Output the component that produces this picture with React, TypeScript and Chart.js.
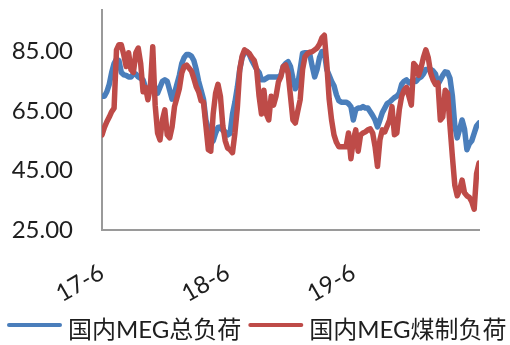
import React, { useEffect, useRef } from 'react';
import { Chart, registerables } from 'chart.js';

Chart.register(...registerables);

// Series names and colours
const seriesNames = ['国内MEG总负荷', '国内MEG煤制负荷'];
const seriesColors = ['#4a7ebb', '#be4b48'];

// X axis: weeks counted from June 2017, labelled once a year
const tickWeeks = [0, 52, 104];
const tickLabels = ['17-6', '18-6', '19-6'];

// Y axis ticks
const yTicks = [25, 45, 65, 85];

// Weekly operating rate (%) — total MEG capacity
const totalLoad = [
  70, 70, 71.5, 74, 78, 81, 82.5, 82, 78, 77.2,
  77, 76.5, 76.5, 77.5, 77.5, 76.5, 76, 75.5, 73, 72.5,
  72, 72, 73, 71, 73, 75, 75.5, 75, 72, 69,
  71, 74, 77, 81, 83, 84, 84, 83.5, 82, 79,
  75, 72, 69, 62, 59, 54, 55, 57.6, 59.5, 59.7,
  58.5, 58, 57, 57.5, 64, 68, 73, 79, 83, 84.6,
  85, 84, 82, 80.5, 79, 78, 75.5, 75.5, 76, 76.5,
  76.5, 76.5, 76.5, 76.5, 77, 80, 81, 81.6, 80, 76,
  72.5, 74, 79, 84.5, 84.6, 84.6, 84, 80, 76.5, 79,
  83, 85, 85, 79, 77, 75, 73.5, 70.5, 68.5, 68,
  68, 68, 67.5, 66.5, 62, 65.5, 66, 66, 66.5, 66,
  66, 64.8, 63.5, 62, 59.7, 62, 64.5, 66, 67.5, 68,
  68.8, 69.5, 70, 71, 74, 75, 75.5, 74.5, 75, 75.5,
  75, 76, 76.5, 77.5, 79, 79, 79, 78.5, 77.5, 74,
  75.5, 77, 78.2, 78, 76, 70, 60, 56, 59, 62,
  59, 52, 54, 55, 57.5, 60, 61,
];

// Weekly operating rate (%) — coal-based MEG capacity
const coalLoad = [
  57, 59.5, 61.4, 63, 64.8, 66, 85.6, 87.3, 87.3, 84,
  80, 84.6, 78.9, 78, 84.6, 86.2, 81, 71.5, 73, 68.8,
  73, 86.6, 67, 57.6, 55.3, 62, 65.4, 57, 56, 59.7,
  66.5, 69.5, 72.5, 77.8, 80, 80.5, 79.5, 78.5, 76, 73.2,
  71.5, 68.5, 68, 60, 52, 51.5, 64, 71, 74, 70,
  60, 55, 52.5, 52, 51, 57.6, 66, 79, 83.5, 85.6,
  85, 84.3, 83, 82, 79, 70, 64, 72, 64, 62,
  70, 67, 70, 74.8, 76.5, 80, 80.5, 77.8, 70, 62,
  61, 65, 68.8, 79, 83.3, 84.3, 84.8, 85, 85.6, 86.2,
  87.5, 89.6, 90.5, 81, 69, 62, 57, 54.5, 53, 53,
  53, 53, 57.6, 49, 55.3, 58.7, 51.5, 57, 57.6, 58,
  58.7, 59, 57.6, 53, 46.4, 55.3, 58.7, 58, 60, 62,
  66.5, 57, 57.6, 65.4, 70, 72, 73, 70, 67, 81,
  80, 77, 79.5, 83, 85.6, 83, 77.8, 75.5, 74, 74.5,
  62, 63, 72, 71, 60, 49.6, 40, 36.5, 38.5, 41.8,
  37.5, 36.5, 36, 34.5, 32, 44, 47.5,
];

const FONT = "Lato, 'Noto Sans CJK SC', sans-serif";
const TEXT_COLOR = '#1e1e1e';
const AXIS_COLOR = '#9a9a9a';

// Legend drawn as a line sample followed by the series name
const lineLegend = {
  id: 'lineLegend',
  afterDraw(chart: any) {
    const ctx = chart.ctx as CanvasRenderingContext2D;
    ctx.save();
    ctx.font = `24px ${FONT}`;
    ctx.textBaseline = 'middle';
    ctx.textAlign = 'left';
    const y = 325;
    let x = 7;
    chart.data.datasets.forEach((ds: any) => {
      ctx.strokeStyle = ds.borderColor;
      ctx.lineWidth = 4;
      ctx.lineCap = 'round';
      ctx.beginPath();
      ctx.moveTo(x + 2, y);
      ctx.lineTo(x + 53, y);
      ctx.stroke();
      ctx.fillStyle = TEXT_COLOR;
      ctx.fillText(ds.label, x + 61, y + 5);
      x += 61 + ctx.measureText(ds.label).width + 7;
    });
    ctx.restore();
  },
};

export default function App() {
  const canvasRef = useRef<HTMLCanvasElement | null>(null);

  useEffect(() => {
    if (!canvasRef.current) return;
    const toPoints = (arr: number[]) => arr.map((v, i) => ({ x: i, y: v }));
    const chart = new Chart(canvasRef.current, {
      type: 'line',
      data: {
        datasets: [
          {
            label: seriesNames[0],
            data: toPoints(totalLoad),
            borderColor: seriesColors[0],
            backgroundColor: seriesColors[0],
            borderWidth: 5.5,
            pointRadius: 0,
            tension: 0,
            borderJoinStyle: 'round',
            borderCapStyle: 'round',
            order: 1,
          },
          {
            label: seriesNames[1],
            data: toPoints(coalLoad),
            borderColor: seriesColors[1],
            backgroundColor: seriesColors[1],
            borderWidth: 5.5,
            pointRadius: 0,
            tension: 0,
            borderJoinStyle: 'round',
            borderCapStyle: 'round',
            order: 0,
          },
        ],
      },
      options: {
        responsive: false,
        animation: false,
        layout: { padding: { left: 0, right: 31, top: 10, bottom: 40 } },
        plugins: {
          legend: { display: false },
          tooltip: { enabled: false },
        },
        scales: {
          x: {
            type: 'linear',
            min: 0,
            max: 156,
            afterBuildTicks: (s: any) => {
              s.ticks = tickWeeks.map((v) => ({ value: v }));
            },
            afterFit: (s: any) => {
              s.height = 75;
              s.paddingLeft = 0;
              s.paddingRight = 0;
            },
            grid: { display: false, drawTicks: false },
            border: { display: true, color: AXIS_COLOR, width: 2 },
            ticks: {
              autoSkip: false,
              minRotation: 30,
              maxRotation: 30,
              padding: 28,
              color: TEXT_COLOR,
              font: { family: FONT, size: 24 },
              callback: (v: any) => {
                const i = tickWeeks.indexOf(Number(v));
                return i >= 0 ? tickLabels[i] : '';
              },
            },
          },
          y: {
            min: 25,
            max: 99,
            afterBuildTicks: (s: any) => {
              s.ticks = yTicks.map((v) => ({ value: v }));
            },
            afterFit: (s: any) => {
              s.width = 102;
              s.paddingTop = 0;
              s.paddingBottom = 0;
            },
            grid: { display: false, drawTicks: false },
            border: { display: true, color: AXIS_COLOR, width: 2 },
            ticks: {
              padding: 29,
              color: TEXT_COLOR,
              font: { family: FONT, size: 24 },
              callback: (v: any) => Number(v).toFixed(2),
            },
          },
        },
      },
      plugins: [lineLegend],
    });
    return () => chart.destroy();
  }, []);

  return (
    <div style={{ position: 'absolute', left: 0, top: 0, width: 510, height: 345, background: '#fff' }}>
      <canvas ref={canvasRef} width={510} height={345} style={{ display: 'block' }} />
    </div>
  );
}
